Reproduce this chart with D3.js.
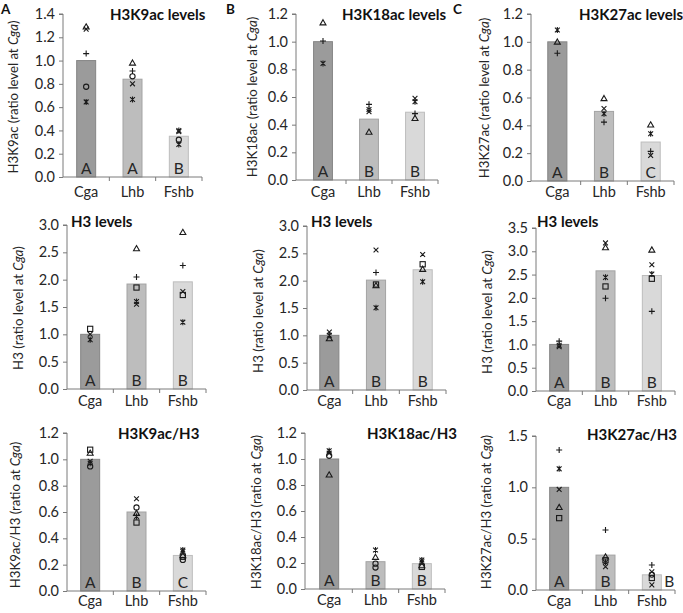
<!DOCTYPE html>
<html>
<head>
<meta charset="utf-8">
<script src="https://cdn.jsdelivr.net/npm/d3@7"></script>
<style>
  html, body { margin: 0; padding: 0; background: #fff; }
  svg { display: block; font-family: Lato, "Open Sans", sans-serif; }
</style>
</head>
<body>
<svg id="chart" width="683" height="613"></svg>
<script>
// ---------------- DATA ----------------
const categories = ["Cga", "Lhb", "Fshb"];
const panelLetters = ["A", "B", "C"];
const titles = ["H3K9ac levels", "H3K18ac levels", "H3K27ac levels",
                "H3 levels", "H3 levels", "H3 levels",
                "H3K9ac/H3", "H3K18ac/H3", "H3K27ac/H3"];
const yLabelPre = ["H3K9ac (ratio level at ", "H3K18ac (ratio level at ", "H3K27ac (ratio level at ",
                   "H3 (ratio level at ", "H3 (ratio level at ", "H3 (ratio level at ",
                   "H3K9ac/H3 (ratio at ", "H3K18ac/H3 (ratio at ", "H3K27ac/H3 (ratio at "];
const yLabelItalic = "Cga";
const yMax = [1.4, 1.2, 1.2, 3.0, 3.0, 3.5, 1.2, 1.2, 1.5];
const tickStep = [0.2, 0.2, 0.2, 0.5, 0.5, 0.5, 0.2, 0.2, 0.5];
const barMeans = [
  [1.00, 0.84, 0.35],
  [1.00, 0.44, 0.49],
  [1.00, 0.50, 0.28],
  [1.00, 1.92, 1.96],
  [1.00, 2.01, 2.20],
  [1.00, 2.58, 2.48],
  [1.00, 0.60, 0.27],
  [1.00, 0.21, 0.195],
  [1.00, 0.34, 0.148]
];
const groupLetters = [
  ["A", "A", "B"], ["A", "B", "B"], ["A", "B", "C"],
  ["A", "B", "B"], ["A", "B", "B"], ["A", "B", "B"],
  ["A", "B", "C"], ["A", "B", "B"], ["A", "B", "B"]
];
// replicate points: per panel, per category: [marker, value]
const replicates = [
  [ [["tri",1.29],["x",1.27],["plus",1.06],["circle",0.775],["star",0.645]],
    [["tri",0.98],["plus",0.91],["circle",0.865],["x",0.80],["star",0.665]],
    [["star",0.40],["x",0.39],["circle",0.32],["star",0.28]] ],
  [ [["tri",1.137],["plus",1.005],["star",0.843]],
    [["plus",0.547],["star",0.51],["x",0.494],["tri",0.347]],
    [["x",0.59],["star",0.566],["plus",0.48],["tri",0.446]] ],
  [ [["star",1.085],["tri",0.999],["plus",0.918]],
    [["tri",0.593],["x",0.521],["star",0.483],["plus",0.423]],
    [["tri",0.404],["star",0.339],["plus",0.213],["x",0.184]] ],
  [ [["square",1.10],["x",1.0],["star",0.90]],
    [["tri",2.57],["plus",2.05],["square",1.856],["star",1.60],["x",1.55]],
    [["tri",2.866],["plus",2.258],["x",1.783],["square",1.72],["star",1.223]] ],
  [ [["x",1.06],["star",1.0],["tri",0.94]],
    [["x",2.56],["plus",2.15],["square",1.93],["tri",1.91],["star",1.506]],
    [["x",2.48],["square",2.30],["tri",2.21],["star",1.98]] ],
  [ [["plus",1.07],["star",0.98],["x",0.95]],
    [["x",3.18],["tri",3.08],["star",2.44],["square",2.245],["plus",1.99]],
    [["tri",3.03],["x",2.71],["star",2.51],["square",2.41],["plus",1.71]] ],
  [ [["square",1.073],["tri",1.048],["x",0.985],["star",0.97],["circle",0.946]],
    [["x",0.70],["circle",0.634],["tri",0.59],["star",0.566],["square",0.52]],
    [["star",0.312],["x",0.30],["tri",0.27],["square",0.26],["circle",0.236]] ],
  [ [["star",1.064],["x",1.045],["circle",1.025],["tri",0.879]],
    [["star",0.30],["tri",0.245],["circle",0.195],["circle",0.165]],
    [["star",0.223],["x",0.21],["tri",0.18],["square",0.17]] ],
  [ [["plus",1.364],["star",1.18],["x",0.98],["tri",0.805],["square",0.70]],
    [["plus",0.584],["tri",0.324],["square",0.29],["star",0.27],["x",0.227]],
    [["plus",0.243],["x",0.178],["circle",0.15],["square",0.117],["x",0.05]] ]
];

// ---------------- LAYOUT ----------------
const layout = [
  {ax: 63,  bx: [63, 202],  y: [177, 14],  lx: 12.5, ly: 97,  tx: 110, ty: 20,  cy: 197},
  {ax: 296, bx: [300, 438], y: [180, 14],  lx: 252,  ly: 97,  tx: 342, ty: 20,  cy: 197},
  {ax: 531, bx: [534, 674], y: [181, 14],  lx: 484,  ly: 98,  tx: 579, ty: 20,  cy: 197},
  {ax: 67,  bx: [67, 206],  y: [389, 225], lx: 17.5, ly: 308, tx: 71,  ty: 227, cy: 406},
  {ax: 307, bx: [306, 446], y: [390, 226], lx: 258,  ly: 311, tx: 311, ty: 227, cy: 406},
  {ax: 536, bx: [536, 675], y: [391, 228], lx: 487,  ly: 312, tx: 537, ty: 227, cy: 406},
  {ax: 67,  bx: [67, 206],  y: [591, 433], lx: 15,   ly: 515, tx: 118, ty: 439, cy: 606},
  {ax: 305, bx: [306, 445], y: [589, 433], lx: 256,  ly: 512, tx: 367, ty: 439, cy: 605},
  {ax: 536, bx: [536, 675], y: [590, 436], lx: 486,  ly: 512, tx: 587, ty: 440, cy: 606}
];
const letterPos = [[1, 14], [226, 14], [453, 14]];
const barFill = ["#9b9b9b", "#bdbdbd", "#d9d9d9"];
const barStroke = ["#858585", "#a3a3a3", "#bdbdbd"];
const textColor = "#262626";
const axisColor = "#7a7a7a";

const svg = d3.select("#chart");

panelLetters.forEach((L, i) => {
  svg.append("text").attr("x", letterPos[i][0]).attr("y", letterPos[i][1])
    .attr("font-size", 13.5).attr("font-weight", "bold").attr("fill", "#111").text(L);
});

function drawMarker(g, type, x, y) {
  const s = 2.4;
  const st = {stroke: "#1a1a1a", "stroke-width": 1.1, fill: "none"};
  let el;
  if (type === "tri") {
    el = g.append("path").attr("d", `M${x},${y - 3}L${x + 3},${y + 2.2}L${x - 3},${y + 2.2}Z`);
  } else if (type === "circle") {
    el = g.append("circle").attr("cx", x).attr("cy", y).attr("r", 2.6);
  } else if (type === "square") {
    el = g.append("rect").attr("x", x - 2.6).attr("y", y - 2.6).attr("width", 5.2).attr("height", 5.2);
  } else if (type === "x") {
    el = g.append("path").attr("d", `M${x - s},${y - s}L${x + s},${y + s}M${x - s},${y + s}L${x + s},${y - s}`);
  } else if (type === "star") {
    el = g.append("path").attr("d", `M${x - s},${y - s}L${x + s},${y + s}M${x - s},${y + s}L${x + s},${y - s}M${x},${y - 3}L${x},${y + 3}`);
  } else if (type === "plus") {
    el = g.append("path").attr("d", `M${x - 3},${y}L${x + 3},${y}M${x},${y - 3}L${x},${y + 3}`);
  }
  Object.entries(st).forEach(([k, v]) => el.attr(k, v));
}

layout.forEach((P, p) => {
  const g = svg.append("g");
  const x = d3.scaleBand().domain(categories).range(P.bx);
  const y = d3.scaleLinear().domain([0, yMax[p]]).range(P.y);
  const bw = x.step() * 0.41;

  // bars
  g.selectAll("rect.bar").data(categories).enter().append("rect")
    .attr("class", "bar")
    .attr("x", d => x(d) + x.bandwidth() / 2 - bw / 2)
    .attr("width", bw)
    .attr("y", (d, i) => y(barMeans[p][i]))
    .attr("height", (d, i) => y(0) - y(barMeans[p][i]))
    .attr("fill", (d, i) => barFill[i])
    .attr("stroke", (d, i) => barStroke[i])
    .attr("stroke-width", 1);

  // group letters
  categories.forEach((c, i) => {
    const h = y(0) - y(barMeans[p][i]);
    const cx = x(c) + x.bandwidth() / 2;
    const outside = h < 18;
    g.append("text")
      .attr("x", outside ? cx + bw / 2 + 3 : cx)
      .attr("y", y(0) - 3)
      .attr("text-anchor", outside ? "start" : "middle")
      .attr("font-size", 15.5).attr("fill", textColor).text(groupLetters[p][i]);
  });

  // y axis
  const ticks = d3.range(0, yMax[p] + 1e-9, tickStep[p]);
  const ya = d3.axisLeft(y).tickValues(ticks).tickFormat(d3.format(".1f")).tickSize(4).tickPadding(4);
  const yg = g.append("g").attr("transform", `translate(${P.ax},0)`).call(ya);
  yg.select(".domain").attr("stroke", axisColor).attr("d", `M-4,${P.y[1]}H0V${P.y[0]}`);
  yg.selectAll(".tick line").attr("stroke", axisColor);
  yg.selectAll(".tick text").attr("font-size", 14.5).attr("fill", textColor).attr("font-family", "Lato");

  // x axis
  g.append("line").attr("x1", P.ax).attr("x2", P.bx[1]).attr("y1", P.y[0]).attr("y2", P.y[0])
    .attr("stroke", axisColor).attr("stroke-width", 1);
  const bounds = [x("Lhb"), x("Fshb"), P.bx[1]];
  bounds.forEach(bx => {
    g.append("line").attr("x1", bx).attr("x2", bx).attr("y1", P.y[0]).attr("y2", P.y[0] + 4)
      .attr("stroke", axisColor);
  });
  categories.forEach(c => {
    g.append("text").attr("x", x(c) + x.bandwidth() / 2).attr("y", P.cy)
      .attr("text-anchor", "middle").attr("font-size", 14.5).attr("fill", textColor).text(c);
  });

  // replicate markers
  replicates[p].forEach((pts, i) => {
    const cx = x(categories[i]) + x.bandwidth() / 2;
    pts.forEach(([m, v]) => drawMarker(g, m, cx, y(v)));
  });

  // title
  g.append("text").attr("x", P.tx).attr("y", P.ty).attr("font-size", 15).attr("font-weight", "bold")
    .attr("fill", "#111").text(titles[p]);

  // y label
  const yl = g.append("text").attr("transform", `translate(${P.lx},${P.ly}) rotate(-90)`)
    .attr("text-anchor", "middle").attr("dominant-baseline", "central")
    .attr("font-size", 13.2).attr("fill", textColor);
  yl.append("tspan").text(yLabelPre[p]);
  yl.append("tspan").attr("font-style", "italic").text(yLabelItalic);
  yl.append("tspan").text(")");
});
</script>
</body>
</html>
